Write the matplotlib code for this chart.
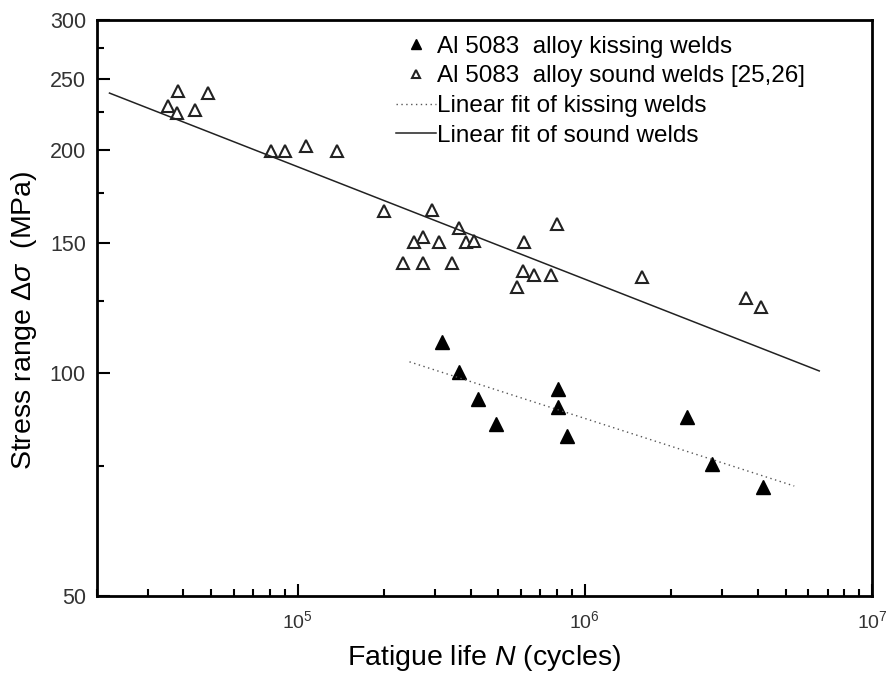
import matplotlib

matplotlib.use("Agg")
import matplotlib.pyplot as plt
from matplotlib.ticker import FixedLocator, LogLocator, NullFormatter, FixedFormatter

plt.rcParams["font.family"] = ["Liberation Sans", "DejaVu Sans"]
plt.rcParams["mathtext.fontset"] = "custom"
plt.rcParams["mathtext.rm"] = "Liberation Sans"
plt.rcParams["mathtext.it"] = "Liberation Sans:italic"
plt.rcParams["mathtext.default"] = "regular"

# Al 5083 sound welds [25,26] (open triangles)
sound_n = [3.54e4, 3.80e4, 3.83e4, 4.39e4, 4.87e4, 8.06e4, 9.01e4, 1.066e5, 1.366e5,
           2.00e5, 2.94e5, 3.65e5, 2.74e5, 2.55e5, 3.11e5, 3.86e5, 4.12e5, 2.33e5,
           2.74e5, 3.45e5, 7.99e5, 6.14e5, 6.09e5, 6.65e5, 7.62e5, 5.81e5, 1.577e6,
           3.65e6, 4.12e6]
sound_s = [229.6, 224.7, 240.6, 226.8, 239.1, 199.7, 199.7, 202.8, 199.7,
           165.7, 166.2, 157.1, 152.8, 150.4, 150.4, 150.4, 150.9, 140.9,
           140.9, 140.9, 159.1, 150.4, 137.5, 135.8, 135.8, 130.8, 134.9,
           126.4, 122.9]

# Al 5083 kissing welds (filled triangles)
kissing_n = [3.19e5, 3.65e5, 4.25e5, 4.91e5, 8.06e5, 8.06e5, 8.66e5, 2.26e6, 2.78e6, 4.18e6]
kissing_s = [110.2, 100.4, 92.3, 85.4, 95.2, 90.0, 82.3, 87.3, 75.4, 70.2]

# linear fit end points (log-log)
fit_sound_n = [2.21e4, 6.55e6]
fit_sound_s = [239.0, 100.7]
fit_kissing_n = [2.45e5, 5.36e6]
fit_kissing_s = [103.6, 70.4]

y_ticks = [50, 100, 150, 200, 250, 300]
y_minor = [75, 125, 175, 225, 275]

fig = plt.figure(figsize=(8.87, 6.78), dpi=100)
ax = fig.add_axes([0.1094, 0.1209, 0.8737, 0.8496])

ax.plot(kissing_n, kissing_s, linestyle="none", marker="^", markersize=10,
        color="black", label="Al 5083  alloy kissing welds")
ax.plot(sound_n, sound_s, linestyle="none", marker="^", markersize=8.5,
        markerfacecolor="white", markeredgecolor="#222222", markeredgewidth=1.5,
        label="Al 5083  alloy sound welds [25,26]")
ax.plot(fit_kissing_n, fit_kissing_s, linestyle=(0, (1, 2.5)), color="#555555",
        linewidth=1.0, label="Linear fit of kissing welds")
ax.plot(fit_sound_n, fit_sound_s, linestyle="-", color="#222222",
        linewidth=1.1, label="Linear fit of sound welds")

ax.set_xscale("log")
ax.set_yscale("log")
ax.set_xlim(2e4, 1e7)
ax.set_ylim(50, 300)

ax.xaxis.set_major_locator(LogLocator(base=10))
ax.xaxis.set_minor_locator(LogLocator(base=10, subs=range(2, 10)))
ax.xaxis.set_minor_formatter(NullFormatter())
ax.yaxis.set_major_locator(FixedLocator(y_ticks))
ax.yaxis.set_major_formatter(FixedFormatter([str(v) for v in y_ticks]))
ax.yaxis.set_minor_locator(FixedLocator(y_minor))
ax.yaxis.set_minor_formatter(NullFormatter())

ax.tick_params(which="both", direction="in", top=False, right=False,
               width=1.5, colors="black", labelcolor="#333333", labelsize=15.5)
ax.tick_params(which="major", length=9, pad=8)
ax.tick_params(which="minor", length=5)
ax.tick_params(axis="x", which="major", pad=10, labelsize=14)
for spine in ax.spines.values():
    spine.set_linewidth(2.0)

ax.set_xlabel(r"Fatigue life $\it{N}$ (cycles)", fontsize=20.5, labelpad=8)
ax.set_ylabel(r"Stress range $\it{Δσ}$  (MPa)", fontsize=20.5)
ax.yaxis.set_label_coords(-0.0755, 0.479)

ax.legend(loc="upper left", bbox_to_anchor=(0.386, 0.973), frameon=False,
          fontsize=17.5, handlelength=1.65, handletextpad=0.05, borderpad=0,
          borderaxespad=0, labelspacing=0.32, markerscale=0.75, numpoints=1)

fig.savefig("out.png", dpi=100)
